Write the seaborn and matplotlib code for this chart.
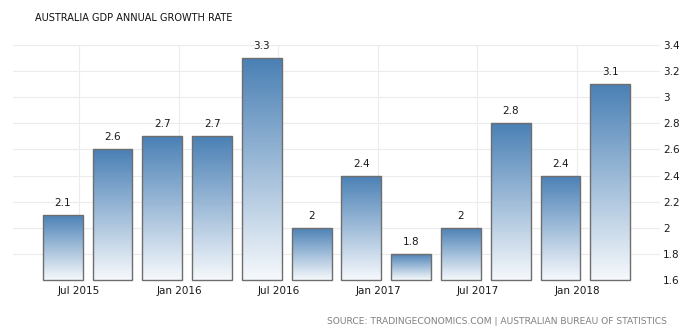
import numpy as np
import pandas as pd
import matplotlib
matplotlib.use("Agg")
import matplotlib.pyplot as plt
import seaborn as sns
from matplotlib.colors import LinearSegmentedColormap

# ---- data ----
quarters = ["2015-06-01", "2015-09-01", "2015-12-01", "2016-03-01", "2016-06-01", "2016-09-01",
            "2016-12-01", "2017-03-01", "2017-06-01", "2017-09-01", "2017-12-01", "2018-03-01"]
growth = [2.1, 2.6, 2.7, 2.7, 3.3, 2.0, 2.4, 1.8, 2.0, 2.8, 2.4, 3.1]
tick_dates = ["2015-07-01", "2016-01-01", "2016-07-01", "2017-01-01", "2017-07-01", "2018-01-01"]
tick_labels = ["Jul 2015", "Jan 2016", "Jul 2016", "Jan 2017", "Jul 2017", "Jan 2018"]
y_ticks = [1.6, 1.8, 2.0, 2.2, 2.4, 2.6, 2.8, 3.0, 3.2, 3.4]
title = "AUSTRALIA GDP ANNUAL GROWTH RATE"
source = "SOURCE: TRADINGECONOMICS.COM | AUSTRALIAN BUREAU OF STATISTICS"

df = pd.DataFrame({"date": quarters, "growth": growth})

sns.set_theme(style="white")
plt.rcParams["font.family"] = ["DejaVu Sans"]

fig = plt.figure(figsize=(6.93, 3.36), dpi=100)
ax = fig.add_axes([13 / 693, 1 - 280 / 336, (660 - 13) / 693, (280 - 45) / 336])

sns.barplot(data=df, x="date", y="growth", ax=ax, width=0.8, color="white",
            edgecolor="#6e6e6e", linewidth=1.0, zorder=3)

ymin, ymax = 1.6, 3.4
ax.set_ylim(ymin, ymax)
ax.set_xlim(-1, 12)

# gradient fill inside each bar (bars rest on the axis floor)
cmap = LinearSegmentedColormap.from_list("tegrad", ["#f6f9fc", "#4a80b5"])
grad = np.linspace(0, 1, 256).reshape(-1, 1)
for p in ax.patches:
    p.set_facecolor("none")
    top = p.get_y() + p.get_height()
    p.set_y(ymin)
    p.set_height(top - ymin)
    p.set_clip_on(False)
    x0 = p.get_x()
    w = p.get_width()
    im = ax.imshow(grad, cmap=cmap, origin="lower", aspect="auto",
                   extent=[x0, x0 + w, ymin, top], zorder=2, interpolation="bilinear")
    im.set_clip_path(p)

ax.set_xlim(-1, 12)
ax.set_ylim(ymin, ymax)

# value labels
ax.bar_label(ax.containers[0], labels=[f"{v:g}" for v in growth], padding=5,
             fontsize=7.5, color="#1a1a1a")

# x ticks at month starts between quarters
bar_dates = pd.to_datetime(quarters)
tpos = []
for td in pd.to_datetime(tick_dates):
    i = int(np.searchsorted(bar_dates, td)) - 1
    tpos.append(i + (td - bar_dates[i]).days / 91.3)
ax.set_xticks(tpos)
ax.set_xticklabels(tick_labels)
ax.set_yticks(y_ticks)
ax.set_yticklabels([f"{v:g}" for v in y_ticks])

ax.yaxis.tick_right()
ax.tick_params(axis="y", length=0, pad=2, labelsize=7.5, labelcolor="#1a1a1a")
ax.tick_params(axis="x", length=0, pad=4, labelsize=7.5, labelcolor="#1a1a1a")
ax.set_xlabel("")
ax.set_ylabel("")
ax.grid(True, color="#ececec", linewidth=0.8, zorder=0)
ax.set_axisbelow(True)
for s in ax.spines.values():
    s.set_visible(False)

fig.text(35 / 693, 1 - 18 / 336, title, fontsize=7, color="#111111", va="center", ha="left")
fig.text(667 / 693, 1 - 321 / 336, source, fontsize=6.6, color="#808080", va="center", ha="right")

fig.savefig("out.png", dpi=100)
